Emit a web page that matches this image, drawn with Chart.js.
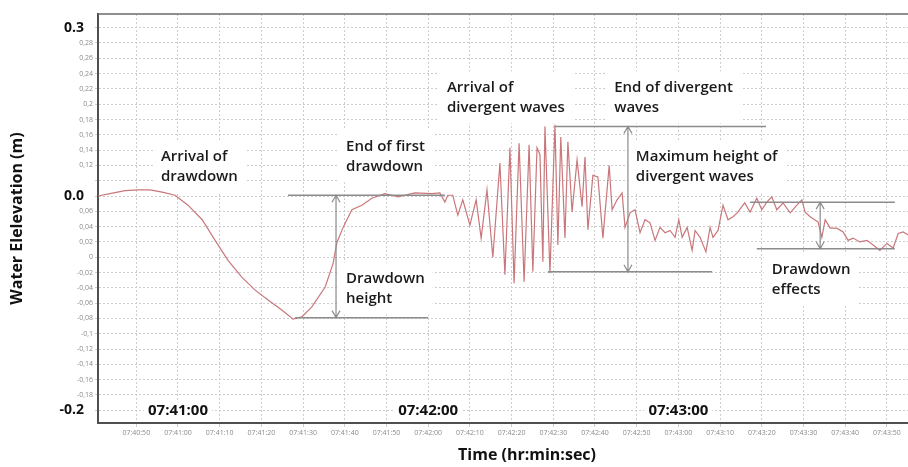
<!DOCTYPE html>
<html><head><meta charset="utf-8">
<script src="https://cdn.jsdelivr.net/npm/chart.js@4"></script>
<style>html,body{margin:0;padding:0;background:#fff;overflow:hidden}canvas{display:block}</style>
</head><body>
<canvas id="c" width="908" height="467"></canvas>
<script>
// ---- data (seconds relative to 07:41:00, elevation in m on the gauge scale) ----
const timeSec = [
  -19.2,-16.3,-12.7,-9.6,-6.7,-3.8,-0.7,2.4,5.8,8.9,12.0,15.3,18.5,21.6,24.9,27.6,29.7,32.1,35.3,37.2,
  38.1,39.6,41.7,44.1,46.5,49.6,52.8,56.8,60.9,62.8,64.0,64.7,65.9,67.1,68.3,70.0,71.5,72.7,74.1,75.5,
  77.2,78.4,79.6,80.6,81.8,83.0,84.2,85.1,86.1,86.8,87.5,88.0,89.2,90.4,91.1,91.8,92.8,93.5,94.5,95.7,
  96.9,97.6,98.3,99.5,100.7,101.9,103.4,104.1,105.3,106.5,107.2,108.4,109.6,110.8,112.0,113.2,114.4,115.6,116.8,118.0,
  119.2,120.1,120.9,122.1,123.3,124.0,125.2,126.6,127.6,128.3,129.5,130.7,131.9,133.1,134.1,135.9,137.2,138.8,140.0,141.2,
  142.4,143.6,145.1,146.8,148.4,149.6,150.4,151.6,153.5,154.4,155.2,156.4,158.0,159.5,160.7,161.9,163.5,165.2,166.7,168.3,
  170.0,171.5,172.7,173.9,175.1
];
const elevation = [
  0.080,0.083,0.087,0.088,0.088,0.085,0.081,0.068,0.049,0.022,-0.004,-0.026,-0.043,-0.056,-0.069,-0.081,-0.078,-0.065,-0.039,-0.008,
  0.019,0.039,0.062,0.068,0.077,0.083,0.079,0.084,0.083,0.084,0.072,0.081,0.081,0.055,0.075,0.042,0.075,0.025,0.088,0.000,
  0.123,-0.023,0.143,-0.034,0.149,-0.032,0.147,-0.019,0.143,0.134,-0.006,0.171,-0.021,0.173,0.016,0.157,0.025,0.151,0.059,0.127,
  0.066,0.131,0.036,0.107,0.105,0.025,0.120,0.062,0.075,0.084,0.039,0.058,0.062,0.032,0.049,0.045,0.022,0.039,0.032,0.035,
  0.026,0.049,0.026,0.039,0.009,0.035,0.026,0.007,0.039,0.026,0.035,0.068,0.049,0.053,0.058,0.071,0.059,0.077,0.062,0.072,
  0.079,0.062,0.071,0.058,0.068,0.075,0.059,0.053,0.046,0.026,0.049,0.038,0.038,0.033,0.022,0.025,0.020,0.022,0.016,0.009,
  0.018,0.012,0.031,0.033,0.029
];
const xTickValues = [-10,0,10,20,30,40,50,60,70,80,90,100,110,120,130,140,150,160,170];
const xTickLabels = ['07:40:50','07:41:00','07:41:10','07:41:20','07:41:30','07:41:40','07:41:50','07:42:00','07:42:10','07:42:20',
  '07:42:30','07:42:40','07:42:50','07:43:00','07:43:10','07:43:20','07:43:30','07:43:40','07:43:50'];
const yTickValues = [-0.2,-0.18,-0.16,-0.14,-0.12,-0.1,-0.08,-0.06,-0.04,-0.02,0,0.02,0.04,0.06,0.08,0.1,0.12,0.14,0.16,0.18,0.2,0.22,0.24,0.26,0.28,0.3];
const yHiddenTicks = [-0.2,0.08,0.1,0.3];
const bigYValues = [0.3, 0.08, -0.2];
const bigYLabels = ['0.3', '0.0', '-0.2'];
const bigXValues = [0, 60, 120];
const bigXLabels = ['07:41:00', '07:42:00', '07:43:00'];
const noteTexts = [
  ['Arrival of', 'drawdown'],
  ['End of first', 'drawdown'],
  ['Drawdown', 'height'],
  ['Arrival of', 'divergent waves'],
  ['End of divergent', 'waves'],
  ['Maximum height of', 'divergent waves'],
  ['Drawdown', 'effects']
];
const noteAnchorT = [-4.1, 40.3, 40.3, 64.5, 104.6, 109.8, 142.4];
const noteAnchorV = [0.131, 0.145, -0.028, 0.222, 0.222, 0.131, -0.017];
// measurement lines: [t1, t2, v]
const hLines = [[26.4,64.0,0.081],[28.1,60.0,-0.079],[90.4,141.0,0.171],[88.7,128.1,-0.019],[137.2,171.9,0.072],[138.8,171.9,0.011]];
// double arrows: [t, v1, v2]
const vArrows = [[37.9,0.081,-0.079],[107.9,0.171,-0.019],[154.0,0.072,0.011]];

const FONT = "'Open Sans', 'DejaVu Sans', sans-serif";
const fmtY = v => String(+v.toFixed(2)).replace('.', ',');
const isHidden = v => yHiddenTicks.some(h => Math.abs(h - v) < 1e-6);

const annot = {
  id: 'annot',
  beforeDatasetsDraw(chart) {
    const {ctx, scales: {x, y}} = chart;
    ctx.save();
    ctx.font = `600 15px ${FONT}`;
    ctx.textBaseline = 'middle';
    ctx.textAlign = 'left';
    noteTexts.forEach((lines, i) => {
      const px = x.getPixelForValue(noteAnchorT[i]);
      const py = y.getPixelForValue(noteAnchorV[i]);
      const w = Math.max(...lines.map(l => ctx.measureText(l).width));
      ctx.fillStyle = '#fff';
      ctx.fillRect(px - 8, py - 16, w + 16, 20 * (lines.length - 1) + 32);
    });
    // big x labels backgrounds + text
    ctx.font = `bold 15px ${FONT}`;
    ctx.textAlign = 'center';
    bigXValues.forEach((t, i) => {
      const px = x.getPixelForValue(t);
      const py = y.getPixelForValue(-0.2) + 1;
      const w = ctx.measureText(bigXLabels[i]).width;
      ctx.fillStyle = '#fff';
      ctx.fillRect(px - w / 2 - 4, py - 9, w + 8, 18);
      ctx.fillStyle = '#111';
      ctx.fillText(bigXLabels[i], px, py);
    });
    ctx.restore();
  },
  afterDatasetsDraw(chart) {
    const {ctx, scales: {x, y}} = chart;
    ctx.save();
    ctx.strokeStyle = '#8c8c8c';
    ctx.lineWidth = 1.5;
    hLines.forEach(([t1, t2, v]) => {
      const py = y.getPixelForValue(v);
      ctx.beginPath();
      ctx.moveTo(x.getPixelForValue(t1), py);
      ctx.lineTo(x.getPixelForValue(t2), py);
      ctx.stroke();
    });
    ctx.lineWidth = 1.2;
    vArrows.forEach(([t, v1, v2]) => {
      const px = x.getPixelForValue(t);
      const p1 = y.getPixelForValue(v1), p2 = y.getPixelForValue(v2);
      ctx.beginPath();
      ctx.moveTo(px, p1); ctx.lineTo(px, p2);
      ctx.moveTo(px - 4, p1 + 7); ctx.lineTo(px, p1); ctx.lineTo(px + 4, p1 + 7);
      ctx.moveTo(px - 4, p2 - 7); ctx.lineTo(px, p2); ctx.lineTo(px + 4, p2 - 7);
      ctx.stroke();
    });
    ctx.font = `600 15px ${FONT}`;
    ctx.textBaseline = 'middle';
    ctx.textAlign = 'left';
    ctx.fillStyle = '#1a1a1a';
    noteTexts.forEach((lines, i) => {
      const px = x.getPixelForValue(noteAnchorT[i]);
      const py = y.getPixelForValue(noteAnchorV[i]);
      lines.forEach((l, k) => ctx.fillText(l, px, py + 20 * k));
    });
    ctx.restore();
  },
  afterDraw(chart) {
    const {ctx, chartArea: ca, scales: {y}} = chart;
    ctx.save();
    ctx.strokeStyle = '#6a6a6a';
    ctx.lineWidth = 1.5;
    ctx.beginPath();
    ctx.moveTo(ca.left, ca.top); ctx.lineTo(ca.right, ca.top);
    ctx.stroke();
    ctx.font = `bold 14px ${FONT}`;
    ctx.textAlign = 'right';
    ctx.textBaseline = 'middle';
    bigYValues.forEach((v, i) => {
      const py = y.getPixelForValue(v);
      const w = ctx.measureText(bigYLabels[i]).width;
      ctx.fillStyle = '#fff';
      ctx.fillRect(84 - w - 3, py - 9, w + 14, 18);
      ctx.fillStyle = '#111';
      ctx.fillText(bigYLabels[i], 84, py);
    });
    ctx.font = `bold 16px ${FONT}`;
    ctx.textAlign = 'center';
    ctx.fillStyle = '#111';
    ctx.fillText('Time (hr:min:sec)', 527, 455);
    ctx.restore();
  }
};

new Chart(document.getElementById('c'), {
  type: 'line',
  data: {
    datasets: [{
      data: timeSec.map((t, i) => ({x: t, y: elevation[i]})),
      borderColor: '#c9777b',
      borderWidth: 1.2,
      pointRadius: 0,
      tension: 0,
      fill: false
    }]
  },
  options: {
    responsive: false,
    animation: false,
    devicePixelRatio: 1,
    layout: {padding: {top: 14, right: 0, bottom: 0, left: 0}},
    plugins: {legend: {display: false}, tooltip: {enabled: false}},
    scales: {
      x: {
        type: 'linear',
        min: -19.18, max: 175.06,
        afterBuildTicks: s => { s.ticks = xTickValues.map(v => ({value: v})); },
        afterFit: s => { s.height = 44; },
        ticks: {
          autoSkip: false, maxRotation: 0, padding: 2,
          font: {size: 7, family: FONT}, color: '#8a8a8a',
          callback: (v, i) => xTickLabels[i]
        },
        grid: {color: '#cdcdcd', lineWidth: 1, tickLength: 4},
        border: {color: '#505050', width: 2, dash: [2, 2]}
      },
      y: {
        position: 'left',
        min: -0.2167, max: 0.3179,
        afterBuildTicks: s => { s.ticks = yTickValues.map(v => ({value: v})); },
        afterFit: s => { s.width = 98; },
        ticks: {
          autoSkip: false, padding: 2,
          font: {size: 7, family: FONT}, color: '#8a8a8a',
          callback: v => isHidden(v) ? '' : fmtY(v)
        },
        grid: {color: '#cdcdcd', lineWidth: 1, tickLength: 3},
        border: {color: '#505050', width: 2, dash: [2, 2]},
        title: {
          display: true, text: 'Water Elelevation (m)', color: '#111',
          font: {size: 16, weight: 'bold', family: FONT},
          padding: {top: 8, bottom: 0}
        }
      }
    }
  },
  plugins: [annot]
});
</script>
</body></html>
